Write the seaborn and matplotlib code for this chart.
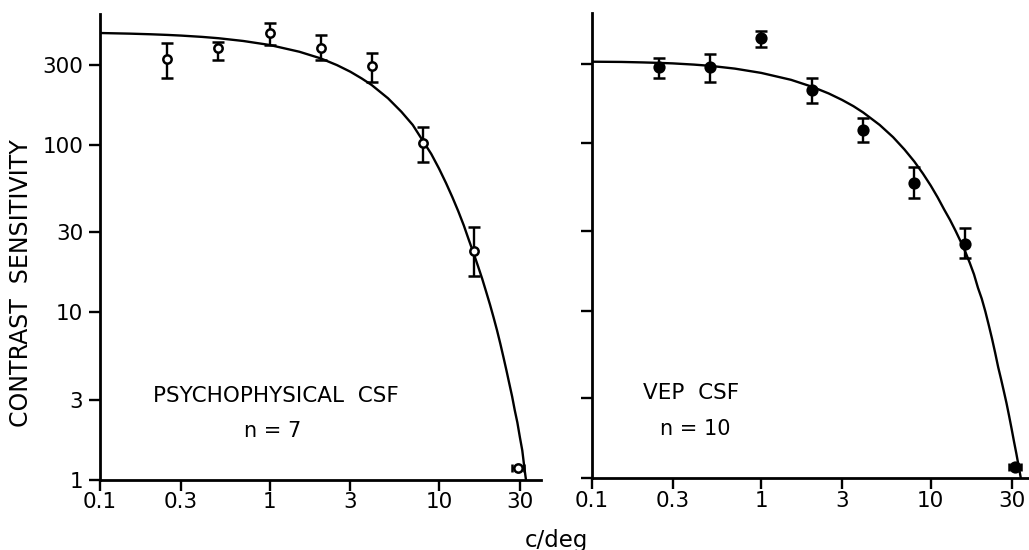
import numpy as np
import pandas as pd
import matplotlib
matplotlib.use("Agg")
import matplotlib.pyplot as plt
import seaborn as sns

# Spatial frequencies (c/deg) of the measured points
freq = [0.25, 0.5, 1, 2, 4, 8, 16]

# Psychophysical CSF (open circles), mean and error bar ends
psy_cs = [325, 378, 462, 378, 293, 102, 23.1]
psy_hi = [405, 408, 533, 448, 353, 128, 32.3]
psy_lo = [249, 319, 392, 319, 237, 78.4, 16.5]
# cut-off point with horizontal error bar
psy_cut_f, psy_cut_lo, psy_cut_hi, psy_cut_cs = 29.3, 26.9, 31.9, 1.18

# VEP CSF (filled circles)
vep_cs = [287, 287, 425, 209, 120.5, 58, 25.1]
vep_hi = [325, 341, 469, 247, 141, 71.8, 31.3]
vep_lo = [245, 234, 377, 175, 102, 46.9, 20.6]
vep_cut_f, vep_cut_lo, vep_cut_hi, vep_cut_cs = 31.3, 29.0, 34.3, 1.16

# Fitted curves
psy_fit_f = [0.1, 0.15, 0.2, 0.25, 0.3, 0.4, 0.5, 0.7, 1, 1.5, 2, 2.5, 3, 3.5, 4, 5, 6, 7,
             8, 9, 10, 11, 12, 13, 14, 15, 16, 17, 18, 19, 20, 21, 22, 23, 24, 25, 26,
             27, 28, 29, 30, 31, 32, 32.6]
psy_fit_cs = [463, 459, 455, 451, 447, 439, 431, 415, 393, 358, 327, 298, 272, 248, 227,
              189, 157, 131, 106, 88, 72, 59, 48.5, 40, 33, 27, 22.5, 18.8, 15.8, 13.2,
              11.1, 9.3, 7.8, 6.5, 5.4, 4.5, 3.75, 3.15, 2.6, 2.2, 1.8, 1.5, 1.15, 1.0]
vep_fit_f = [0.1, 0.15, 0.2, 0.25, 0.3, 0.4, 0.5, 0.7, 1, 1.5, 2, 2.5, 3, 3.5, 4, 5, 6, 7,
             8, 9, 10, 11, 12, 13, 14, 15, 16, 17, 18, 19, 20, 21, 22, 23, 24, 25, 26,
             27, 28, 29, 30, 31, 32, 33, 34]
vep_fit_cs = [308, 307, 305, 303, 301, 296, 291, 280, 264, 240, 218, 199, 182, 167, 153,
              129, 109, 92, 78, 66, 56, 47.5, 40.3, 34.9, 30.1, 26.0, 22.5, 19.3, 16.5,
              13.7, 11.8, 9.9, 8.2, 6.8, 5.6, 4.6, 3.9, 3.3, 2.8, 2.35, 1.97, 1.65,
              1.4, 1.18, 1.0]

xticks = [0.1, 0.3, 1, 3, 10, 30]
xticklabels = ["0.1", "0.3", "1", "3", "10", "30"]
yticks = [1, 3, 10, 30, 100, 300]
yticklabels = ["1", "3", "10", "30", "100", "300"]

sns.set_theme(style="ticks", rc={"text.color": "black", "axes.labelcolor": "black",
                                 "xtick.color": "black", "ytick.color": "black",
                                 "axes.edgecolor": "black", "axes.linewidth": 2})
plt.rcParams["font.family"] = ["DejaVu Sans"]

fig = plt.figure(figsize=(10.29, 5.5), dpi=100)
ax1 = fig.add_axes([0.0972, 0.1273, 0.4286, 0.847])
ax2 = fig.add_axes([0.5750, 0.1309, 0.4250, 0.845])


def draw_panel(ax, fit_f, fit_cs, cs, lo, hi, cut, filled, xmax, title, n_text, tx, nx):
    fit_df = pd.DataFrame({"f": fit_f, "cs": fit_cs})
    sns.lineplot(data=fit_df, x="f", y="cs", ax=ax, color="black", lw=1.7,
                 estimator=None, sort=False)
    cs = np.array(cs)
    yerr = [cs - np.array(lo), np.array(hi) - cs]
    face = "black" if filled else "white"
    ms = 7 if filled else 6
    ax.errorbar(freq, cs, yerr=yerr, fmt="o", color="black", mfc=face, mec="black",
                ms=ms, mew=1.8, elinewidth=1.7, capsize=4, capthick=1.7, zorder=3)
    f, flo, fhi, c = cut
    ax.errorbar([f], [c], xerr=[[f - flo], [fhi - f]], fmt="o", color="black", mfc=face,
                mec="black", ms=ms, mew=1.8, elinewidth=1.7, capsize=3, capthick=1.7,
                zorder=3, clip_on=False)
    ax.set_xscale("log")
    ax.set_yscale("log")
    ax.set_xlim(0.1, xmax)
    ax.set_ylim(1, 600)
    ax.set_xticks(xticks)
    ax.set_xticklabels(xticklabels)
    ax.set_yticks(yticks)
    ax.minorticks_off()
    ax.set_xlabel("")
    ax.set_ylabel("")
    sns.despine(ax=ax)
    ax.tick_params(axis="both", direction="out", length=8, width=1.7, labelsize=15.5)
    ax.tick_params(axis="x", pad=1)
    ax.tick_params(axis="y", pad=4)
    ax.text(tx[0], tx[1], title, transform=ax.transAxes, ha="center", va="center",
            fontsize=15.5)
    ax.text(nx[0], nx[1], n_text, transform=ax.transAxes, ha="center", va="center",
            fontsize=15)


draw_panel(ax1, psy_fit_f, psy_fit_cs, psy_cs, psy_lo, psy_hi,
           (psy_cut_f, psy_cut_lo, psy_cut_hi, psy_cut_cs), False, 40,
           "PSYCHOPHYSICAL  CSF", "n = 7", (0.399, 0.180), (0.391, 0.106))
ax1.set_yticklabels(yticklabels)

draw_panel(ax2, vep_fit_f, vep_fit_cs, vep_cs, vep_lo, vep_hi,
           (vep_cut_f, vep_cut_lo, vep_cut_hi, vep_cut_cs), True, 38,
           "VEP  CSF", "n = 10", (0.2266, 0.1836), (0.2358, 0.1054))
ax2.set_yticklabels([])

fig.text(21 / 1029, 0.485, "CONTRAST  SENSITIVITY", rotation=90, ha="center",
         va="center", fontsize=17)
fig.text(556 / 1029, 0.006, "c/deg", ha="center", va="baseline", fontsize=16.5)

fig.savefig("out.png", dpi=100)
